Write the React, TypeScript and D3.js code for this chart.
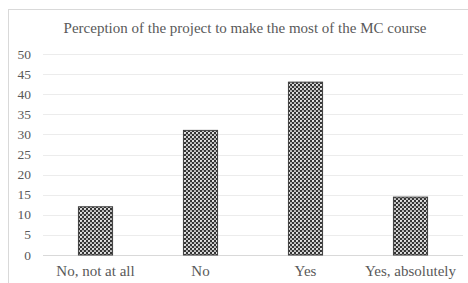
import React from "react";
import * as d3 from "d3";

const categories = ["No, not at all", "No", "Yes", "Yes, absolutely"];
const values = [12, 31, 43, 14.4];
const yTicks = [0, 5, 10, 15, 20, 25, 30, 35, 40, 45, 50];
const title = "Perception of the project to make the most of the MC course";

export default function App() {
  const W = 468, H = 283;
  const x = d3.scaleBand<string>().domain(categories).range([43, 463]).paddingInner(0.675).paddingOuter(0.3375);
  const y = d3.scaleLinear().domain([0, 50]).range([255, 54]);
  const font = "'Times New Roman', Tinos, 'Liberation Serif', 'DejaVu Serif', serif";
  return (
    <svg width={W} height={H} style={{ position: "absolute", left: 0, top: 0 }}>
      <defs>
        <pattern id="dots" width={4} height={4} patternUnits="userSpaceOnUse">
          <rect width={4} height={4} fill="#333" />
          <circle cx={1} cy={1} r={1.1} fill="#f0f0f0" />
          <circle cx={3} cy={3} r={1.1} fill="#d0d0d0" />
        </pattern>
      </defs>
      <rect x={0} y={0} width={W} height={H} fill="#fff" />
      <rect x={8.5} y={9.5} width={W + 10} height={H + 10} fill="none" stroke="#d9d9d9" />
      <text x={245} y={33} textAnchor="middle" fontFamily={font} fontSize={15} fill="#595959">{title}</text>
      {yTicks.map(t => (
        <g key={t}>
          <line x1={43} x2={463} y1={Math.round(y(t)) + 0.5} y2={Math.round(y(t)) + 0.5} stroke={t === 0 ? "#d9d9d9" : "#ececec"} />
          <text x={31} y={y(t) + 4.5} textAnchor="end" fontFamily={font} fontSize={13.5} fill="#595959">{t}</text>
        </g>
      ))}
      {categories.map((c, i) => (
        <g key={c}>
          <rect x={x(c)!} y={y(values[i])} width={x.bandwidth()} height={y(0) - y(values[i])} fill="url(#dots)" stroke="#404040" strokeWidth={1} />
          <text x={x(c)! + x.bandwidth() / 2} y={276} textAnchor="middle" fontFamily={font} fontSize={15} fill="#595959">{c}</text>
        </g>
      ))}
    </svg>
  );
}
